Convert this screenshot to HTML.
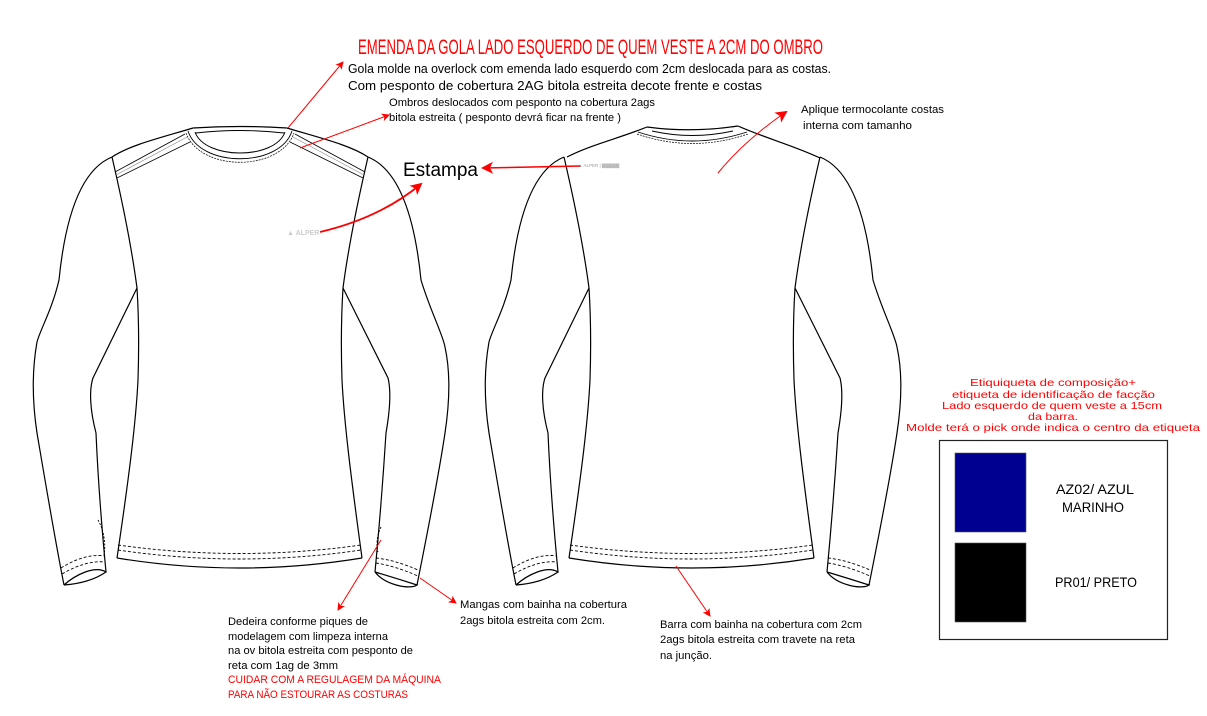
<!DOCTYPE html>
<html><head><meta charset="utf-8"><style>
html,body{margin:0;padding:0;background:#fff;}
svg{display:block;}
text{font-family:"Liberation Sans",sans-serif;}
</style></head><body>
<svg width="1207" height="716" viewBox="0 0 1207 716" xmlns="http://www.w3.org/2000/svg">
<defs>
<marker id="ah" markerWidth="8" markerHeight="8" refX="7" refY="4" orient="auto" markerUnits="userSpaceOnUse"><path d="M0,0 L8,4 L0,8 L2,4 Z" fill="#f00"/></marker>
<marker id="ahb" markerWidth="12" markerHeight="12" refX="10" refY="6" orient="auto" markerUnits="userSpaceOnUse"><path d="M0,0 L12,6 L0,12 L3,6 Z" fill="#f00"/></marker>
<g id="shirt" fill="none" stroke="#000" stroke-width="1.2">
  <path d="M112,157 C122,200 132,250 137,288 C139,320 139,350 138,380 C136,420 130,470 117,558"/>
  <path d="M368,157 C358,200 348,250 343,288 C341,320 341,350 342,380 C344,420 350,470 362,558"/>
  <path d="M117,558 Q240,578 362,558"/>
  <path d="M118,545 Q240,562 361,545" stroke-dasharray="3,2" stroke-width="0.9"/>
  <path d="M118,550 Q240,568 361,550" stroke-dasharray="3,2" stroke-width="0.9"/>
  <path d="M112,157 C80,170 65,220 59,280 C52,310 40,330 37,342 C32,370 32,400 37,433 C45,480 55,540 64,585"/>
  <path d="M137,288 L93,378 C89,390 90,410 96,433 C98,480 102,530 106,572"/>
  <path d="M64,585 Q90,583 106,572 C95,565 75,575 64,585"/>
  <path d="M61,568 Q85,553 105,556" stroke-dasharray="3,2" stroke-width="0.9"/>
  <path d="M62,574 Q86,560 105,562" stroke-dasharray="3,2" stroke-width="0.9"/>
  <path d="M368,157 C400,170 415,220 421,280 C430,310 443,335 445,347 C450,370 450,400 445,433 C438,480 426,540 417,585"/>
  <path d="M343,288 L388,378 C391,390 390,410 386,433 C383,480 379,530 375,572"/>
  <path d="M375,572 Q395,578 417,585 C410,590 385,585 375,572"/>
  <path d="M376,558 Q395,560 418,570" stroke-dasharray="3,2" stroke-width="0.9"/>
  <path d="M376,563 Q395,566 418,576" stroke-dasharray="3,2" stroke-width="0.9"/>
</g>
</defs>

<use href="#shirt"/>
<g fill="none" stroke="#000" stroke-width="1.2">
  <path d="M193,128 C160,138 130,145 112,157"/>
  <path d="M287,128 C320,138 350,145 368,157"/>
  <path d="M193,128 Q240,125 287,128"/>
  <path d="M196,133 Q240,128 284,133" stroke-width="0.9"/>
  <path d="M195,132 C205,160 275,160 285,132" stroke-width="1"/>
  <path d="M188,131 C200,168 280,168 292,131" stroke-width="0.9"/>
  <path d="M186,133 C200,172 280,172 294,133" stroke-width="0.7" stroke-dasharray="2,1"/>
  <path d="M185,134 L115,172" stroke-width="0.8"/>
  <path d="M187,137 L116,175" stroke-width="0.6" stroke="#888"/>
  <path d="M190,142 L117,178" stroke-width="0.8"/>
  <path d="M295,134 L365,172" stroke-width="0.8"/>
  <path d="M293,137 L364,175" stroke-width="0.6" stroke="#888"/>
  <path d="M290,142 L363,178" stroke-width="0.8"/>
  <path d="M98,520 C104,530 106,545 104,555" stroke-dasharray="2,1.5" stroke-width="0.9"/>
  <path d="M381,527 C377,535 376,545 378,552" stroke-dasharray="2,1.5" stroke-width="0.9"/>
</g>
<text x="287" y="235" font-size="7" fill="#ccc" font-weight="bold">▲ ALPER</text>

<g transform="translate(452,0)"><use href="#shirt"/></g>
<g fill="none" stroke="#000" stroke-width="1.2">
  <path d="M647,127 C620,138 590,145 567,157"/>
  <path d="M738,126 C765,138 795,146 820,158"/>
  <path d="M647,127 Q692,133 738,126"/>
  <path d="M652,131 Q692,140 733,131" stroke-width="0.9"/>
  <path d="M638,132 Q692,150 747,132" stroke-width="0.9"/>
  <path d="M637,134 Q692,153 748,134" stroke-width="0.7" stroke-dasharray="2,1"/>
</g>
<text x="578" y="167" font-size="4.5" fill="#999">▲ ALPER | <tspan fill="#bbb">▇▇▇▇▇</tspan></text>

<g stroke="#f00" fill="none" stroke-width="1">
  <line x1="288" y1="128" x2="343" y2="62" marker-end="url(#ah)"/>
  <line x1="300" y1="148" x2="389" y2="115" marker-end="url(#ah)"/>
  <line x1="580" y1="166" x2="483" y2="168" stroke-width="1.5" marker-end="url(#ahb)"/>
  <path d="M320,232 Q380,218 421,184" stroke-width="1.8" marker-end="url(#ahb)"/>
  <path d="M718,173 Q745,140 786,112" marker-end="url(#ahb)"/>
  <line x1="381" y1="540" x2="338" y2="610" marker-end="url(#ah)"/>
  <line x1="420" y1="578" x2="456" y2="603" marker-end="url(#ah)"/>
  <line x1="676" y1="566" x2="710" y2="616" marker-end="url(#ah)"/>
</g>

<text x="358" y="54" font-size="21" fill="#f00" textLength="465" lengthAdjust="spacingAndGlyphs">EMENDA DA GOLA LADO ESQUERDO DE QUEM VESTE A 2CM DO OMBRO</text>
<text x="348" y="73" font-size="12.5" textLength="483" lengthAdjust="spacingAndGlyphs">Gola molde na overlock com emenda lado esquerdo com 2cm deslocada para as costas.</text>
<text x="348" y="90" font-size="12.5" textLength="414" lengthAdjust="spacingAndGlyphs">Com pesponto de cobertura 2AG bitola estreita decote frente e costas</text>
<text x="389" y="106" font-size="11" textLength="266" lengthAdjust="spacingAndGlyphs">Ombros deslocados com pesponto na cobertura 2ags</text>
<text x="389" y="121" font-size="11" textLength="232" lengthAdjust="spacingAndGlyphs">bitola estreita ( pesponto devrá ficar na frente )</text>
<text x="801" y="113" font-size="11" textLength="143" lengthAdjust="spacingAndGlyphs">Aplique termocolante costas</text>
<text x="803" y="129" font-size="11" textLength="109" lengthAdjust="spacingAndGlyphs">interna com tamanho</text>
<text x="403" y="176" font-size="19" textLength="75" lengthAdjust="spacingAndGlyphs">Estampa</text>

<g font-size="11">
<text x="228" y="625" textLength="140" lengthAdjust="spacingAndGlyphs">Dedeira conforme piques de</text>
<text x="228" y="640" textLength="160" lengthAdjust="spacingAndGlyphs">modelagem com limpeza interna</text>
<text x="228" y="654" textLength="185" lengthAdjust="spacingAndGlyphs">na ov bitola estreita com pesponto de</text>
<text x="228" y="669" textLength="110" lengthAdjust="spacingAndGlyphs">reta com 1ag de 3mm</text>
<text x="228" y="683" fill="#f00" textLength="213" lengthAdjust="spacingAndGlyphs">CUIDAR COM A REGULAGEM DA MÁQUINA</text>
<text x="228" y="698" fill="#f00" textLength="180" lengthAdjust="spacingAndGlyphs">PARA NÃO ESTOURAR AS COSTURAS</text>
<text x="460" y="608" textLength="167" lengthAdjust="spacingAndGlyphs">Mangas com bainha na cobertura</text>
<text x="460" y="624" textLength="145" lengthAdjust="spacingAndGlyphs">2ags bitola estreita com 2cm.</text>
<text x="660" y="628" textLength="202" lengthAdjust="spacingAndGlyphs">Barra com bainha na cobertura com 2cm</text>
<text x="660" y="643" textLength="195" lengthAdjust="spacingAndGlyphs">2ags bitola estreita com travete na reta</text>
<text x="660" y="659" textLength="52" lengthAdjust="spacingAndGlyphs">na junção.</text>
</g>

<g font-size="10.5" fill="#f00">
<text x="970" y="386" textLength="166" lengthAdjust="spacingAndGlyphs">Etiquiqueta de composição+</text>
<text x="952" y="398" textLength="203" lengthAdjust="spacingAndGlyphs">etiqueta de identificação de facção</text>
<text x="942" y="409" textLength="220" lengthAdjust="spacingAndGlyphs">Lado esquerdo de quem veste a 15cm</text>
<text x="1028" y="420" textLength="50" lengthAdjust="spacingAndGlyphs">da barra.</text>
<text x="906" y="431" textLength="294" lengthAdjust="spacingAndGlyphs">Molde terá o pick onde indica o centro da etiqueta</text>
</g>

<rect x="939.5" y="440.5" width="228" height="199" fill="#fff" stroke="#222" stroke-width="1.2"/>
<rect x="955" y="453" width="71" height="79" fill="#000090" stroke="#555" stroke-width="0.6"/>
<rect x="955" y="543" width="71" height="79" fill="#000" stroke="#555" stroke-width="0.6"/>
<g font-size="14" text-anchor="middle">
<text x="1095" y="494" textLength="78" lengthAdjust="spacingAndGlyphs">AZ02/ AZUL</text>
<text x="1093" y="512" textLength="62" lengthAdjust="spacingAndGlyphs">MARINHO</text>
<text x="1096" y="587" textLength="82" lengthAdjust="spacingAndGlyphs">PR01/ PRETO</text>
</g>
</svg>
</body></html>
